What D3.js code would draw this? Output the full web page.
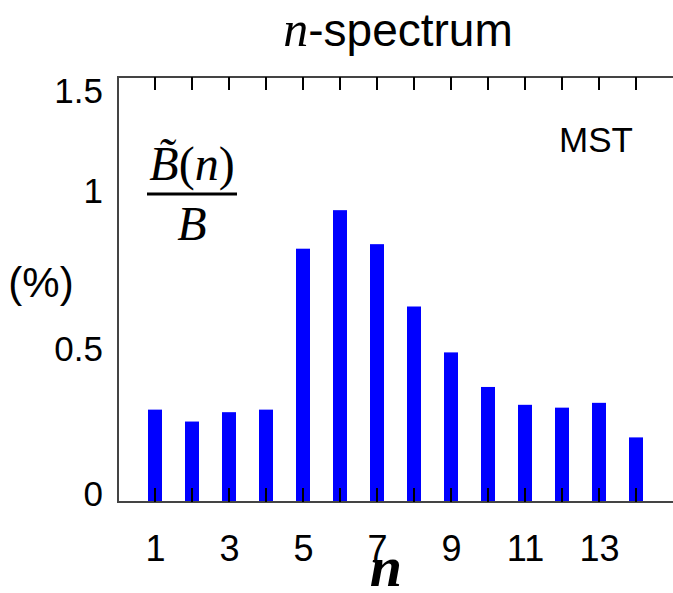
<!DOCTYPE html>
<html>
<head>
<meta charset="utf-8">
<script src="https://cdn.jsdelivr.net/npm/d3@7"></script>
<style>
  html, body { margin: 0; padding: 0; background: #fff; }
  svg { display: block; }
  text { font-family: "Liberation Sans", Arial, sans-serif; fill: #000; }
  .serif { font-family: "Liberation Serif", "Times New Roman", serif; }
  .it { font-style: italic; }
</style>
</head>
<body>
<svg id="chart" width="673" height="593"></svg>
<script>
// ---- data ----
const nValues = [1, 2, 3, 4, 5, 6, 7, 8, 9, 10, 11, 12, 13, 14];
const spectrum = [0.326, 0.284, 0.317, 0.326, 0.894, 1.03, 0.91, 0.69, 0.528, 0.406, 0.343, 0.333, 0.35, 0.228];
const xTickLabels = [1, 3, 5, 7, 9, 11, 13];
const yTickValues = [0, 0.5, 1, 1.5];
const yTickLabels = ["0", "0.5", "1", "1.5"];

// ---- layout ----
const svg = d3.select("#chart");
const pL = 118, pR = 673, pT = 77, pB = 502;
const x = d3.scaleLinear().domain([0, 15]).range([pL, pR]);
const y = d3.scaleLinear().domain([0, 1.5]).range([pB, pT]);
const barW = 14;
const yLabelShift = [3, 0, -16, 25];

// bars
svg.append("g").selectAll("rect").data(nValues).join("rect")
  .attr("x", (d) => x(d) - barW / 2)
  .attr("y", (d, i) => y(spectrum[i]))
  .attr("width", barW)
  .attr("height", (d, i) => y(0) - y(spectrum[i]))
  .attr("fill", "#0000ff");

// frame lines
const frame = svg.append("g").attr("stroke", "#444").attr("stroke-width", 2).attr("fill", "none");
frame.append("line").attr("x1", pL).attr("x2", pR).attr("y1", pT).attr("y2", pT);
frame.append("line").attr("x1", pL).attr("x2", pR).attr("y1", pB).attr("y2", pB);
frame.append("line").attr("x1", pL).attr("x2", pL).attr("y1", pT - 1).attr("y2", pB + 1);

// ticks (inward) top and bottom
const tickG = svg.append("g").attr("stroke", "#000").attr("stroke-width", 2);
tickG.selectAll("line.t").data(nValues).join("line").attr("class", "t")
  .attr("x1", (d) => x(d)).attr("x2", (d) => x(d))
  .attr("y1", pT).attr("y2", pT + 13);
tickG.selectAll("line.b").data(nValues).join("line").attr("class", "b")
  .attr("x1", (d) => x(d)).attr("x2", (d) => x(d))
  .attr("y1", pB).attr("y2", pB - 14);

// x tick labels
const xAxis = d3.axisBottom(x).tickValues(xTickLabels).tickSize(0).tickPadding(33).tickFormat(d3.format("d"));
const gx = svg.append("g").attr("transform", `translate(0,${pB})`).call(xAxis);
gx.select(".domain").remove();
gx.attr("font-family", null).attr("font-size", null);
gx.selectAll("text").style("font-size", "36px");

// y tick labels
const yAxis = d3.axisLeft(y).tickValues(yTickValues).tickSize(0).tickPadding(15)
  .tickFormat((d, i) => yTickLabels[i]);
const gy = svg.append("g").attr("transform", `translate(${pL},0)`).call(yAxis);
gy.select(".domain").remove();
gy.attr("font-family", null).attr("font-size", null);
gy.selectAll("text").style("font-size", "35px")
  .attr("dy", null).attr("dominant-baseline", "alphabetic")
  .attr("y", (d, i) => yLabelShift[i]);

// title
const title = svg.append("text").attr("x", 398).attr("y", 46).attr("text-anchor", "middle").style("font-size", "46px");
title.append("tspan").attr("class", "serif it").style("font-size", "50px").text("n");
title.append("tspan").text("-spectrum");

// x axis label
svg.append("text").attr("class", "serif it").attr("x", 386).attr("y", 586)
  .attr("text-anchor", "middle").style("font-size", "58px").style("font-weight", "bold").text("n");

// y-axis fraction label
const fx = 192;
const num = svg.append("text").attr("class", "serif").attr("x", fx).attr("y", 180)
  .attr("text-anchor", "middle").style("font-size", "48px");
num.append("tspan").attr("class", "it").text("B\u0303");
num.append("tspan").text("(");
num.append("tspan").attr("class", "it").text("n");
num.append("tspan").text(")");
svg.append("line").attr("x1", 147).attr("x2", 237).attr("y1", 194).attr("y2", 194)
  .attr("stroke", "#000").attr("stroke-width", 3);
svg.append("text").attr("class", "serif it").attr("x", fx).attr("y", 240)
  .attr("text-anchor", "middle").style("font-size", "48px").text("B");

svg.append("text").attr("x", 41).attr("y", 297).attr("text-anchor", "middle").style("font-size", "42px").text("(%)");

// annotation
svg.append("text").attr("x", 596).attr("y", 152).attr("text-anchor", "middle").style("font-size", "35px").text("MST");
</script>
</body>
</html>
